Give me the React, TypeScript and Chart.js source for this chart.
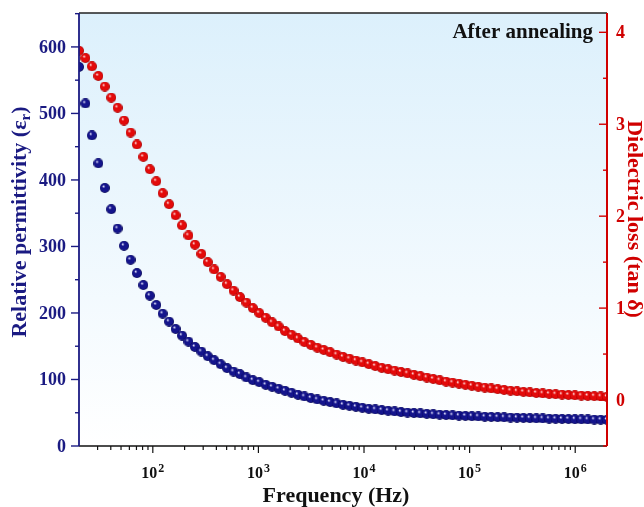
import React, { useEffect, useRef } from 'react';
import { Chart, registerables } from 'chart.js';

Chart.register(...registerables);

// ---- data ----
const frequencies = [
  20, 23.0, 26.5, 30.5, 35.1, 40.4, 46.4, 53.4, 61.5, 70.7,
  81.4, 93.7, 107.8, 124, 142.7, 164.3, 189, 217.5, 250.3, 288.1,
  331.5, 381.5, 439, 505.2, 581.4, 669, 769.9, 886, 1019.6, 1173.4,
  1350.3, 1554, 1788, 2058, 2368, 2725, 3136, 3609, 4154, 4780,
  5501, 6331, 7285, 8384, 9648, 11103, 12777, 14704, 16921, 19472,
  22409, 25788, 29676, 34151, 39301, 45227, 52047, 59895, 68927, 79320,
  91281, 105045, 120886, 139114, 160091, 184232, 212012, 243982, 280772, 323110,
  371832, 427901, 492425, 566678, 652127, 750463, 863627, 993855, 1143722, 1316185,
  1514653, 1743047, 2000000,
];

const permittivity = [
  570, 515, 467, 425, 388, 356, 327, 301, 280, 260,
  242, 226, 212, 199, 187, 176, 166, 157, 149, 142,
  135, 129, 123, 117, 112, 108, 103, 99, 96, 92,
  89, 86, 83, 80, 77, 74.5, 72, 70, 68, 66,
  64, 62, 60.5, 59, 57.5, 56, 55, 54, 53, 52,
  51, 50.3, 49.6, 49, 48.3, 47.7, 47.1, 46.6, 46.1, 45.6,
  45.2, 44.8, 44.4, 44, 43.7, 43.4, 43.1, 42.8, 42.5, 42.2,
  41.9, 41.6, 41.4, 41.1, 40.9, 40.7, 40.5, 40.3, 40.1, 39.9,
  39.7, 39.5, 39.3,
];

const tanDelta = [
  3.80, 3.72, 3.63, 3.525, 3.41, 3.29, 3.18, 3.04, 2.91, 2.78,
  2.645, 2.51, 2.38, 2.25, 2.13, 2.01, 1.90, 1.79, 1.69, 1.59,
  1.50, 1.42, 1.34, 1.26, 1.19, 1.12, 1.06, 1.00, 0.946, 0.895,
  0.845, 0.80, 0.75, 0.71, 0.67, 0.63, 0.60, 0.57, 0.545, 0.52,
  0.495, 0.47, 0.45, 0.43, 0.41, 0.39, 0.37, 0.35, 0.335, 0.32,
  0.305, 0.29, 0.275, 0.26, 0.245, 0.23, 0.215, 0.20, 0.19, 0.178,
  0.166, 0.155, 0.145, 0.135, 0.126, 0.118, 0.11, 0.102, 0.095, 0.089,
  0.083, 0.077, 0.072, 0.067, 0.063, 0.059, 0.055, 0.051, 0.048, 0.045,
  0.042, 0.039, 0.036,
];

const leftMajorTicks = [0, 100, 200, 300, 400, 500, 600];
const leftMinorTicks = [50, 150, 250, 350, 450, 550, 650];
const rightMajorTicks = [0, 1, 2, 3, 4];
const rightMinorTicks = [-0.5, 0.5, 1.5, 2.5, 3.5];
const xDecadeExponents = [2, 3, 4, 5, 6];
const xMinorMultipliers = [2, 3, 4, 5, 6, 7, 8, 9];

const xTitle = 'Frequency (Hz)';
const leftTitleMain = 'Relative permittivity (ε';
const leftTitleSub = 'r';
const rightTitle = 'Dielectric loss (tan δ)';
const annotation = 'After annealing';

const NAVY = '#1a1a82';
const RED = '#d00000';
const FONT = '"Liberation Serif", "Times New Roman", serif';

function makeSphere(light: string, base: string, dark: string, r: number) {
  const size = Math.ceil(r * 2);
  const c = document.createElement('canvas');
  c.width = size;
  c.height = size;
  const g = c.getContext('2d')!;
  const cx = size / 2, cy = size / 2;
  const grad = g.createRadialGradient(cx - r * 0.3, cy - r * 0.35, r * 0.05, cx, cy, r);
  grad.addColorStop(0, light);
  grad.addColorStop(0.3, base);
  grad.addColorStop(0.8, base);
  grad.addColorStop(1, dark);
  g.fillStyle = grad;
  g.beginPath();
  g.arc(cx, cy, r, 0, Math.PI * 2);
  g.fill();
  return c;
}

const decorPlugin = {
  id: 'decor',
  beforeDatasetsDraw(chart: any) {
    const { ctx, chartArea: a } = chart;
    ctx.save();
    const g = ctx.createLinearGradient(0, a.top, 0, a.bottom);
    g.addColorStop(0, '#dcf0fc');
    g.addColorStop(1, '#ffffff');
    ctx.fillStyle = g;
    ctx.fillRect(a.left, a.top, a.right - a.left, a.bottom - a.top);
    ctx.restore();
  },
  afterDatasetsDraw(chart: any) {
    const { ctx, chartArea: a, scales } = chart;
    const xs = scales.x, yl = scales.y, yr = scales.y1;
    ctx.save();

    // top border
    ctx.strokeStyle = '#222222';
    ctx.lineWidth = 1.5;
    ctx.beginPath();
    ctx.moveTo(a.left, a.top);
    ctx.lineTo(a.right, a.top);
    ctx.stroke();

    // bottom axis
    ctx.strokeStyle = '#111111';
    ctx.lineWidth = 1.5;
    ctx.beginPath();
    ctx.moveTo(a.left, a.bottom);
    ctx.lineTo(a.right, a.bottom);
    ctx.stroke();
    ctx.lineWidth = 1.2;
    for (let e = 1; e <= 6; e++) {
      for (const m of xMinorMultipliers) {
        const v = m * Math.pow(10, e);
        if (v <= xs.min || v >= xs.max) continue;
        const px = xs.getPixelForValue(v);
        ctx.beginPath();
        ctx.moveTo(px, a.bottom);
        ctx.lineTo(px, a.bottom + 4);
        ctx.stroke();
      }
    }
    ctx.fillStyle = '#111111';
    for (const e of xDecadeExponents) {
      const px = xs.getPixelForValue(Math.pow(10, e));
      ctx.beginPath();
      ctx.moveTo(px, a.bottom);
      ctx.lineTo(px, a.bottom + 7);
      ctx.stroke();
      ctx.font = `bold 16px ${FONT}`;
      const w1 = ctx.measureText('10').width;
      ctx.font = `bold 12px ${FONT}`;
      const w2 = ctx.measureText(String(e)).width;
      const start = px - (w1 + w2 + 1) / 2;
      ctx.textAlign = 'left';
      ctx.textBaseline = 'alphabetic';
      ctx.font = `bold 16px ${FONT}`;
      ctx.fillText('10', start, 478);
      ctx.font = `bold 12px ${FONT}`;
      ctx.fillText(String(e), start + w1 + 1, 471.5);
    }

    // left axis
    ctx.strokeStyle = NAVY;
    ctx.lineWidth = 1.8;
    ctx.beginPath();
    ctx.moveTo(a.left, a.top);
    ctx.lineTo(a.left, a.bottom);
    ctx.stroke();
    ctx.lineWidth = 1.4;
    for (const v of leftMinorTicks) {
      if (v > yl.max) continue;
      const py = yl.getPixelForValue(v);
      ctx.beginPath();
      ctx.moveTo(a.left - 4, py);
      ctx.lineTo(a.left, py);
      ctx.stroke();
    }
    ctx.fillStyle = NAVY;
    ctx.font = `bold 18px ${FONT}`;
    ctx.textAlign = 'right';
    ctx.textBaseline = 'middle';
    for (const v of leftMajorTicks) {
      const py = yl.getPixelForValue(v);
      ctx.beginPath();
      ctx.moveTo(a.left - 8, py);
      ctx.lineTo(a.left, py);
      ctx.stroke();
      ctx.fillText(String(v), a.left - 13, py + 1);
    }

    // right axis
    ctx.strokeStyle = RED;
    ctx.lineWidth = 2;
    ctx.beginPath();
    ctx.moveTo(a.right, a.top);
    ctx.lineTo(a.right, a.bottom);
    ctx.stroke();
    ctx.lineWidth = 1.4;
    for (const v of rightMinorTicks) {
      const py = yr.getPixelForValue(v);
      ctx.beginPath();
      ctx.moveTo(a.right - 4, py);
      ctx.lineTo(a.right, py);
      ctx.stroke();
    }
    ctx.fillStyle = RED;
    ctx.font = `bold 18px ${FONT}`;
    ctx.textAlign = 'left';
    ctx.textBaseline = 'middle';
    for (const v of rightMajorTicks) {
      const py = yr.getPixelForValue(v);
      ctx.beginPath();
      ctx.moveTo(a.right - 8, py);
      ctx.lineTo(a.right, py);
      ctx.stroke();
      ctx.fillText(String(v), a.right + 9, py + 1);
    }

    // x title
    ctx.fillStyle = '#111111';
    ctx.font = `bold 22px ${FONT}`;
    ctx.textAlign = 'center';
    ctx.textBaseline = 'alphabetic';
    ctx.fillText(xTitle, 336, 502);

    // left title with subscript
    ctx.save();
    ctx.translate(26, 222);
    ctx.rotate(-Math.PI / 2);
    ctx.fillStyle = NAVY;
    ctx.textAlign = 'left';
    ctx.textBaseline = 'alphabetic';
    ctx.font = `bold 22px ${FONT}`;
    const wm = ctx.measureText(leftTitleMain).width;
    const wc = ctx.measureText(')').width;
    ctx.font = `bold 15px ${FONT}`;
    const ws = ctx.measureText(leftTitleSub).width;
    const total = wm + ws + wc;
    let sx = -total / 2;
    ctx.font = `bold 22px ${FONT}`;
    ctx.fillText(leftTitleMain, sx, 0);
    sx += wm;
    ctx.font = `bold 15px ${FONT}`;
    ctx.fillText(leftTitleSub, sx, 4);
    sx += ws;
    ctx.font = `bold 22px ${FONT}`;
    ctx.fillText(')', sx, 0);
    ctx.restore();

    // right title
    ctx.save();
    ctx.translate(628, 219);
    ctx.rotate(Math.PI / 2);
    ctx.fillStyle = RED;
    ctx.font = `bold 22px ${FONT}`;
    ctx.textAlign = 'center';
    ctx.textBaseline = 'alphabetic';
    ctx.fillText(rightTitle, 0, 0);
    ctx.restore();

    // annotation
    ctx.fillStyle = '#111111';
    ctx.font = `bold 21px ${FONT}`;
    ctx.textAlign = 'right';
    ctx.textBaseline = 'alphabetic';
    ctx.fillText(annotation, 593, 38);

    ctx.restore();
  },
};

export default function App() {
  const ref = useRef<HTMLCanvasElement | null>(null);

  useEffect(() => {
    document.body.style.margin = '0';
    document.body.style.overflow = 'hidden';
    const canvas = ref.current;
    if (!canvas) return;

    const blueBall = makeSphere('#e6e6ff', '#14148c', '#03034a', 5);
    const redBall = makeSphere('#ffe0e0', '#e30a0a', '#9a0000', 5);

    const chart = new Chart(canvas, {
      type: 'scatter',
      data: {
        datasets: [
          {
            label: 'Relative permittivity',
            data: frequencies.map((f, i) => ({ x: f, y: permittivity[i] })),
            yAxisID: 'y',
            pointStyle: blueBall as any,
            pointRadius: 5,
            showLine: false,
            clip: 0 as any,
          },
          {
            label: 'Dielectric loss',
            data: frequencies.map((f, i) => ({ x: f, y: tanDelta[i] })),
            yAxisID: 'y1',
            pointStyle: redBall as any,
            pointRadius: 5,
            showLine: false,
            clip: 0 as any,
          },
        ],
      },
      options: {
        animation: false,
        responsive: false,
        devicePixelRatio: 1,
        layout: { padding: { left: 79, right: 37, top: 13, bottom: 61 } },
        plugins: { legend: { display: false }, tooltip: { enabled: false } },
        scales: {
          x: { type: 'logarithmic', min: 20, max: 2000000, display: false },
          y: { type: 'linear', min: 0, max: 651, display: false },
          y1: { type: 'linear', position: 'right', min: -0.5, max: 4.21, display: false },
        },
      },
      plugins: [decorPlugin],
    });

    return () => chart.destroy();
  }, []);

  return (
    <div style={{ width: 644, height: 507, background: '#ffffff' }}>
      <canvas ref={ref} width={644} height={507} style={{ display: 'block' }} />
    </div>
  );
}
